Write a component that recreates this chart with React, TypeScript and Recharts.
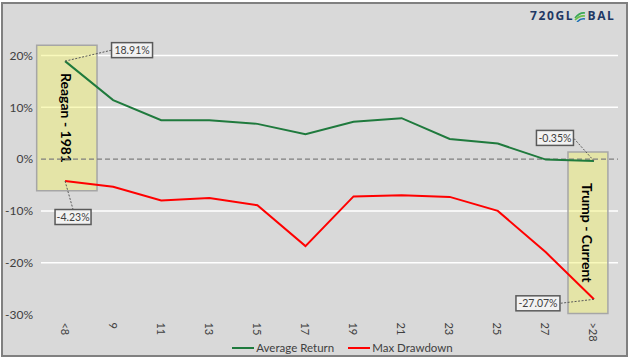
import React from 'react';
import {
  LineChart,
  Line,
  XAxis,
  YAxis,
  CartesianGrid,
  ReferenceLine,
  ReferenceArea,
  Legend,
} from 'recharts';

// ---------------------------------------------------------------------------
// Data
// ---------------------------------------------------------------------------

const CATEGORIES = ['<8', '9', '11', '13', '15', '17', '19', '21', '23', '25', '27', '>28'];
const AVG_RETURN = [18.91, 11.4, 7.5, 7.5, 6.8, 4.8, 7.2, 7.9, 3.9, 3.0, -0.1, -0.35];
const MAX_DRAWDOWN = [-4.23, -5.35, -8.0, -7.5, -8.9, -16.8, -7.2, -7.0, -7.3, -10.0, -18.0, -27.07];
const Y_TICKS = [-30, -20, -10, 0, 10, 20];

const data = CATEGORIES.map((label, i) => ({
  idx: i,
  label,
  avg: AVG_RETURN[i],
  dd: MAX_DRAWDOWN[i],
}));

// ---------------------------------------------------------------------------
// Colors / fonts
// ---------------------------------------------------------------------------

const GREEN = '#1f7a3d';
const RED = '#ff0000';
const TEXT = '#404040';
const FONT = 'Lato, "Open Sans", sans-serif';

// callout offsets per series / point: [dx, dy] of box center from the point
const CALLOUTS: Record<string, Record<number, { dx: number; dy: number; w: number }>> = {
  avg: { 0: { dx: 67, dy: -11, w: 41 }, 11: { dx: -39, dy: -23, w: 37 } },
  dd: { 0: { dx: 8, dy: 36, w: 36 }, 11: { dx: -56, dy: 4, w: 44 } },
};

function makeCallout(key: string) {
  return (props: any) => {
    const { x, y, index, value } = props;
    const c = CALLOUTS[key][index];
    if (!c || x == null || y == null) return null;
    const bx = x + c.dx;
    const by = y + c.dy;
    const h = 15;
    // leader ends at the nearest edge of the box
    let ex = bx;
    let ey = by;
    if (Math.abs(c.dx) > Math.abs(c.dy)) ex = bx + (c.dx > 0 ? -c.w / 2 : c.w / 2);
    else ey = by + (c.dy > 0 ? -h / 2 : h / 2);
    return (
      <g>
        <line x1={x} y1={y} x2={ex} y2={ey} stroke="#595959" strokeWidth={1} strokeDasharray="2 1.5" />
        <rect x={bx - c.w / 2} y={by - h / 2} width={c.w} height={h} fill="#f2f2f2" stroke="#595959" strokeWidth={1.5} />
        <text x={bx} y={by} textAnchor="middle" dominantBaseline="central" fontSize={10.5} fill={TEXT} fontFamily={FONT}>
          {`${value.toFixed(2)}%`}
        </text>
      </g>
    );
  };
}

function BoxLabel({ viewBox, text }: any) {
  if (!viewBox) return null;
  const cx = viewBox.x + viewBox.width / 2;
  const cy = viewBox.y + viewBox.height / 2;
  return (
    <text
      x={cx}
      y={cy}
      transform={`rotate(90 ${cx} ${cy})`}
      textAnchor="middle"
      dominantBaseline="central"
      fontSize={14}
      fontWeight={700}
      fill="#000"
      fontFamily={FONT}
    >
      {text}
    </text>
  );
}

function XTick({ x, y, payload }: any) {
  return (
    <text
      x={x}
      y={y}
      transform={`rotate(90 ${x} ${y})`}
      textAnchor="start"
      dominantBaseline="central"
      fontSize={11}
      fill={TEXT}
      fontFamily={FONT}
    >
      {CATEGORIES[payload.value]}
    </text>
  );
}

function LegendContent() {
  const items = [
    { name: 'Average Return', color: GREEN },
    { name: 'Max Drawdown', color: RED },
  ];
  return (
    <div style={{ display: 'flex', justifyContent: 'center', gap: 14, fontFamily: FONT, fontSize: 11.5, color: TEXT }}>
      {items.map((it) => (
        <div key={it.name} style={{ display: 'flex', alignItems: 'center', gap: 2 }}>
          <svg width={22} height={10}>
            <line x1={0} y1={5} x2={22} y2={5} stroke={it.color} strokeWidth={2} />
          </svg>
          <span>{it.name}</span>
        </div>
      ))}
    </div>
  );
}

function Logo() {
  return (
    <div
      style={{
        position: 'absolute',
        left: 530,
        top: 9,
        display: 'flex',
        alignItems: 'center',
        fontFamily: '"Open Sans", sans-serif',
        fontWeight: 700,
        fontSize: 12,
        letterSpacing: 1.6,
        color: '#1f3864',
        lineHeight: '14px',
      }}
    >
      <span>720GL</span>
      <svg width={12} height={12} style={{ marginRight: 1.5 }}>
        <path d="M1 8 Q6 2 11 3" stroke="#3aa757" strokeWidth={1.6} fill="none" />
        <path d="M1 10 Q6 5 11 6" stroke="#6cc04a" strokeWidth={1.6} fill="none" />
        <path d="M3 12 Q7 8 11 9" stroke="#1f6fb5" strokeWidth={1.6} fill="none" />
      </svg>
      <span>BAL</span>
    </div>
  );
}

// ---------------------------------------------------------------------------
// App
// ---------------------------------------------------------------------------

export default function App() {
  return (
    <div style={{ position: 'absolute', left: 0, top: 0, width: 630, height: 360, background: '#fff' }}>
      <div
        style={{
          position: 'absolute',
          left: 1,
          top: 2,
          width: 627,
          height: 355,
          boxSizing: 'border-box',
          border: '2px solid #808080',
          background: '#d9d9d9',
        }}
      />
      <div style={{ position: 'absolute', left: 0, top: 0 }}>
        <LineChart width={630} height={360} data={data} margin={{ top: 55.5, right: 12, bottom: 5, left: 7 }}>
          <CartesianGrid vertical={false} stroke="#ffffff" strokeWidth={1.5} horizontalValues={[-20, -10, 10, 20]} />
          <XAxis
            dataKey="idx"
            type="number"
            domain={[-0.5, 11.5]}
            ticks={CATEGORIES.map((_, i) => i)}
            interval={0}
            axisLine={false}
            tickLine={false}
            height={26.5}
            tick={<XTick />}
          />
          <YAxis
            domain={[-30, 20]}
            ticks={Y_TICKS}
            width={34}
            axisLine={false}
            tickLine={false}
            tickFormatter={(v: number) => `${v}%`}
            tick={{ fontSize: 12, fill: TEXT, fontFamily: FONT }}
          />
          <ReferenceLine y={0} stroke="#7f7f7f" strokeWidth={1.2} strokeDasharray="5 3" />
          <Line
            dataKey="avg"
            name="Average Return"
            stroke={GREEN}
            strokeWidth={2}
            dot={false}
            isAnimationActive={false}
            label={makeCallout('avg')}
          />
          <Line
            dataKey="dd"
            name="Max Drawdown"
            stroke={RED}
            strokeWidth={2}
            dot={false}
            isAnimationActive={false}
            label={makeCallout('dd')}
          />
          <ReferenceArea
            x1={-0.59}
            x2={0.665}
            y1={-6.13}
            y2={22}
            ifOverflow="visible"
            fill="#f2f26b"
            fillOpacity={0.45}
            stroke="#a6a6a6"
            strokeWidth={1.5}
            label={<BoxLabel text="Reagan - 1981" />}
          />
          <ReferenceArea
            x1={10.46}
            x2={11.29}
            y1={-29.8}
            y2={1.35}
            ifOverflow="visible"
            fill="#f2f26b"
            fillOpacity={0.45}
            stroke="#a6a6a6"
            strokeWidth={1.5}
            label={<BoxLabel text="Trump - Current" />}
          />
          <Legend verticalAlign="bottom" height={14} content={<LegendContent />} wrapperStyle={{ paddingLeft: 30 }} />
        </LineChart>
      </div>
      <Logo />
    </div>
  );
}
